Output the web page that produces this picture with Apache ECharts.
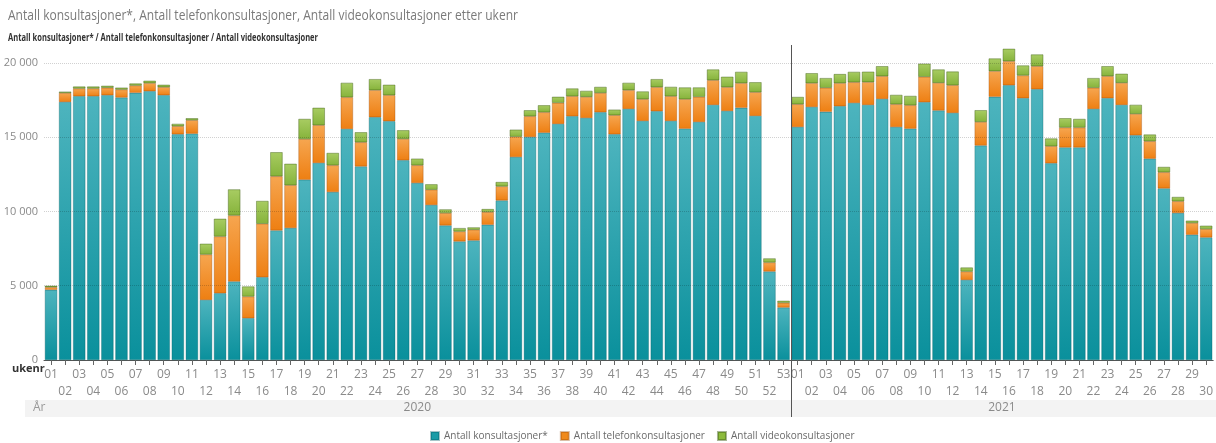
<!DOCTYPE html>
<html><head><meta charset="utf-8">
<script src="https://cdn.jsdelivr.net/npm/echarts@6/dist/echarts.min.js"></script>
<style>html,body{margin:0;padding:0;background:#fff}#c{width:1216px;height:443px}</style>
</head><body><div id="c"></div>
<script>
const years = ['2020', '2021'];
const weeks2020 = ['01','02','03','04','05','06','07','08','09','10','11','12','13','14','15','16','17','18','19','20','21','22','23','24','25','26','27','28','29','30','31','32','33','34','35','36','37','38','39','40','41','42','43','44','45','46','47','48','49','50','51','52','53'];
const weeks2021 = ['01','02','03','04','05','06','07','08','09','10','11','12','13','14','15','16','17','18','19','20','21','22','23','24','25','26','27','28','29','30'];
const yTicks = [0, 5000, 10000, 15000, 20000];

const konsult2020 = [4720,17370,17750,17750,17820,17660,17980,18090,17820,15190,15235,4045,4490,5280,2810,5570,8720,8880,12130,13260,11300,15550,13030,16340,16070,13440,11910,10430,9055,7980,8045,9100,10740,13660,15010,15300,15890,16400,16290,16670,15190,16900,16090,16740,16090,15570,16020,17170,16760,16970,16430,5955,3530];
const konsult2021 = [15680,17030,16700,17080,17300,17170,17570,15680,15570,17350,16790,16630,5390,14430,17710,18490,17620,18220,13235,14310,14310,16900,17620,17170,15120,13550,11550,9890,8430,8250];
const telefon2020 = [180,600,520,520,500,540,490,540,540,540,900,3055,3820,4450,1460,3600,3640,2880,2740,2540,1800,2130,1620,1820,1750,1440,1190,1030,830,670,720,855,945,1370,1390,1370,1415,1350,1415,1300,1280,1260,1460,1620,1660,1980,1690,1660,1600,1660,1590,610,315];
const telefon2021 = [1530,1600,1620,1550,1390,1530,1530,1530,1570,1710,1860,1860,560,1590,1730,1620,1530,1550,1150,1330,1330,1420,1480,1480,1440,1170,1080,790,790,560];
const video2020 = [90,90,130,130,130,130,135,160,160,160,135,720,1190,1750,675,1530,1620,1440,1350,1170,830,970,675,740,700,580,450,360,250,225,160,200,290,470,405,470,405,520,405,405,380,490,520,540,630,790,630,720,700,760,670,270,135];
const video2021 = [490,670,650,610,700,700,670,630,630,880,900,920,270,790,850,830,670,790,520,630,580,650,670,610,610,450,360,290,155,225];

const seriesNames = ['Antall konsultasjoner*', 'Antall telefonkonsultasjoner', 'Antall videokonsultasjoner'];
const titleText = 'Antall konsultasjoner*, Antall telefonkonsultasjoner, Antall videokonsultasjoner etter ukenr';
const subtitleText = 'Antall konsultasjoner* / Antall telefonkonsultasjoner / Antall videokonsultasjoner';

const categories = weeks2020.map(w => years[0] + '-' + w).concat(weeks2021.map(w => years[1] + '-' + w));
const konsult = konsult2020.concat(konsult2021);
const telefon = telefon2020.concat(telefon2021);
const video = video2020.concat(video2021);

const FONT = 'Open Sans';
const grad = (a, b) => new echarts.graphic.LinearGradient(0, 0, 0, 1, [{offset: 0, color: a}, {offset: 1, color: b}]);
const solid = ['#1a9ca7', '#f08a1c', '#8dbb3c'];
const fmtNum = v => String(v).replace(/\B(?=(\d{3})+(?!\d))/g, ' ');
const weekOf = c => c.split('-')[1];

const chart = echarts.init(document.getElementById('c'), null, {renderer: 'canvas'});

const barBase = {
  type: 'bar', stack: 'total', barCategoryGap: '13%',
  emphasis: {disabled: true}, animation: false
};

chart.setOption({
  animation: false,
  textStyle: {fontFamily: FONT},
  grid: {left: 44, right: 1, top: 45, height: 315, containLabel: false},
  legend: {
    left: 425, top: 426, itemWidth: 8, itemHeight: 8, itemGap: 12, itemTextGap: 4, icon: 'rect',
    textStyle: {color: '#6a6a6a', fontSize: 10, fontFamily: FONT},
    data: seriesNames.map((n, i) => ({name: n, itemStyle: {color: solid[i]}})),
    selectedMode: false
  },
  xAxis: [{
    type: 'category', data: categories, position: 'bottom',
    axisLine: {show: true, lineStyle: {color: '#555', width: 1}},
    axisTick: {show: true, alignWithLabel: true, interval: 0, length: 5, lineStyle: {color: '#666'}},
    axisLabel: {
      interval: (idx, val) => parseInt(weekOf(val), 10) % 2 === 1,
      formatter: v => weekOf(v), color: '#8a8a8a', fontSize: 12, margin: 9, fontFamily: FONT
    },
    splitLine: {show: false}
  }, {
    type: 'category', data: categories, position: 'bottom', offset: 0,
    axisLine: {show: false}, axisTick: {show: false},
    axisLabel: {
      interval: (idx, val) => parseInt(weekOf(val), 10) % 2 === 0,
      formatter: v => weekOf(v), color: '#8a8a8a', fontSize: 12, margin: 26, fontFamily: FONT
    },
    splitLine: {show: false}
  }],
  yAxis: {
    type: 'value', min: 0, max: 21200, interval: 5000,
    axisLine: {show: false}, axisTick: {show: false},
    splitLine: {show: false},
    axisLabel: {
      color: '#8a8a8a', fontSize: 11, margin: 6, fontFamily: FONT,
      formatter: v => (yTicks.indexOf(v) >= 0 ? fmtNum(v) : '')
    }
  },
  series: [
    Object.assign({}, barBase, {name: seriesNames[0], data: konsult,
      itemStyle: {color: grad('#4db4be', '#0a909c'), borderColor: 'rgba(0,90,100,0.35)', borderWidth: 0.5}}),
    Object.assign({}, barBase, {name: seriesNames[1], data: telefon,
      itemStyle: {color: grad('#f6a650', '#ee7f12'), borderColor: 'rgba(150,70,0,0.35)', borderWidth: 0.5}}),
    Object.assign({}, barBase, {name: seriesNames[2], data: video,
      itemStyle: {color: grad('#a8cc62', '#86b33b'), borderColor: 'rgba(60,90,20,0.45)', borderWidth: 0.5},
      markLine: {
        silent: true, symbol: 'none', animation: false,
        label: {show: false},
        lineStyle: {type: 'dotted', color: 'rgba(0,0,0,0.18)', width: 1},
        data: yTicks.filter(v => v > 0).map(v => ({yAxis: v}))
      }})
  ]
});

const cv = document.createElement('canvas').getContext('2d');
function fitScale(text, font, target) {
  cv.font = font;
  const w = cv.measureText(text).width;
  return target / w;
}

const xOf = i => chart.convertToPixel({xAxisIndex: 0}, categories[i]);
const n20 = weeks2020.length;
const last = categories.length - 1;
const divX = Math.round((xOf(n20 - 1) + xOf(n20)) / 2) + 0.5;
const c2020 = (xOf(0) + xOf(n20 - 1)) / 2;
const c2021 = (xOf(n20) + xOf(last)) / 2;
const topY = chart.convertToPixel({yAxisIndex: 0}, 21200);

const tFont = '14px "' + FONT + '"';
const sFont = 'bold 11px "' + FONT + '"';
const tScale = fitScale(titleText, tFont, 510);
const sScale = fitScale(subtitleText, sFont, 310);

chart.setOption({
  graphic: [
    {type: 'rect', silent: true, z: -1, shape: {x: 25, y: 400, width: 1191, height: 17}, style: {fill: '#f3f3f3'}},
    {type: 'text', silent: true, x: 33, y: 408, style: {text: 'År', fill: '#999', fontSize: 12, fontFamily: FONT, verticalAlign: 'middle'}},
    {type: 'text', silent: true, x: 12, y: 369, style: {text: 'ukenr', fill: '#333', fontSize: 11, fontWeight: 'bold', fontFamily: FONT, verticalAlign: 'middle'}},
    {type: 'text', silent: true, x: c2020, y: 408, style: {text: years[0], fill: '#8a8a8a', fontSize: 12, fontFamily: FONT, align: 'center', verticalAlign: 'middle'}},
    {type: 'text', silent: true, x: c2021, y: 408, style: {text: years[1], fill: '#8a8a8a', fontSize: 12, fontFamily: FONT, align: 'center', verticalAlign: 'middle'}},
    {type: 'line', silent: true, z: 10, shape: {x1: divX, y1: topY, x2: divX, y2: 417}, style: {stroke: '#555', lineWidth: 1}},
    {type: 'text', silent: true, x: 8, y: 16, scaleX: tScale, style: {text: titleText, fill: '#7a7a7a', fontSize: 14, fontFamily: FONT, verticalAlign: 'middle'}},
    {type: 'text', silent: true, x: 8, y: 38, scaleX: sScale, style: {text: subtitleText, fill: '#333', fontSize: 11, fontWeight: 'bold', fontFamily: FONT, verticalAlign: 'middle'}}
  ]
});
</script></body></html>
